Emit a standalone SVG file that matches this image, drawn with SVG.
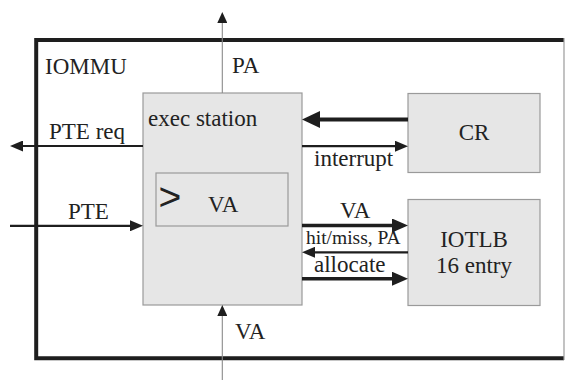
<svg xmlns="http://www.w3.org/2000/svg" width="565" height="380" viewBox="0 0 565 380">
  <style>
    text { font-family: "Liberation Serif", "Times New Roman", serif; font-size: 23px; fill: #222; }
    .small { font-size: 19.5px; }
    .mid { text-anchor: middle; }
    .sym { font-family: "Liberation Sans", Arial, sans-serif; font-size: 39px; }
    .block { fill: #e6e6e6; stroke: #9a9a9a; stroke-width: 1.2; }
    .frame { fill: none; stroke: #1e1e1e; stroke-width: 4; }
    .edge { fill: none; stroke: #9a9a9a; stroke-width: 1.2; }
    .wire { fill: none; stroke: #1e1e1e; }
    .thin { stroke: #8a8a8a; stroke-width: 1.1; }
    .w2 { stroke-width: 2.2; }
    .w3 { stroke-width: 3.6; }
    .w4 { stroke-width: 4.2; }
  </style>
  <defs>
    <!-- head sizes in user units so thick and thin wires share a look -->
    <marker id="headS" markerUnits="userSpaceOnUse" markerWidth="13" markerHeight="11" refX="6" refY="5.5" orient="auto">
      <path d="M0,0 L13,5.5 L0,11 Z" fill="#1e1e1e"/>
    </marker>
    <marker id="headT" markerUnits="userSpaceOnUse" markerWidth="11" markerHeight="10" refX="5" refY="5" orient="auto">
      <path d="M0,0 L11,5 L0,10 Z" fill="#1e1e1e"/>
    </marker>
    <marker id="headM" markerUnits="userSpaceOnUse" markerWidth="16" markerHeight="14" refX="8" refY="7" orient="auto">
      <path d="M0,0 L16,7 L0,14 Z" fill="#1e1e1e"/>
    </marker>
    <marker id="headL" markerUnits="userSpaceOnUse" markerWidth="18" markerHeight="17" refX="9" refY="8.5" orient="auto">
      <path d="M0,0 L18,8.5 L0,17 Z" fill="#1e1e1e"/>
    </marker>
  </defs>

  <!-- IOMMU enclosure -->
  <g id="iommu">
    <path class="frame" d="M564,40 L36.2,40 L36.2,358.3 L564,358.3"/>
    <line class="edge" x1="564" y1="38" x2="564" y2="360"/>
    <text x="45" y="74">IOMMU</text>
  </g>

  <g id="exec-station">
    <rect class="block" x="143" y="93" width="159" height="212"/>
    <text x="148" y="126">exec station</text>
  </g>

  <g id="va-register">
    <rect class="block" x="156" y="173" width="132" height="53"/>
    <text class="sym" x="158.5" y="209.5">&gt;</text>
    <text x="208" y="211.5">VA</text>
  </g>

  <g id="cr">
    <rect class="block" x="408" y="93.5" width="132" height="79"/>
    <text class="mid" x="474" y="140">CR</text>
  </g>

  <g id="iotlb">
    <rect class="block" x="408" y="199.5" width="132" height="106"/>
    <text class="mid" x="474" y="246.5">IOTLB</text>
    <text class="mid" x="474" y="273">16 entry</text>
  </g>

  <g id="connectors">
    <!-- PA out of the top -->
    <line class="wire thin" x1="222.3" y1="93" x2="222.3" y2="18" marker-end="url(#headT)"/>
    <text x="232" y="73">PA</text>
    <!-- PTE request out to the left -->
    <line class="wire w2" x1="143" y1="146" x2="17" y2="146" marker-end="url(#headS)"/>
    <text x="49" y="138.5">PTE req</text>
    <!-- PTE in from the left -->
    <line class="wire w2" x1="10" y1="225.8" x2="136" y2="225.8" marker-end="url(#headS)"/>
    <text x="68" y="219">PTE</text>
    <!-- VA in from the bottom -->
    <line class="wire thin" x1="222.3" y1="380" x2="222.3" y2="311" marker-end="url(#headT)"/>
    <text x="235" y="339">VA</text>
    <!-- CR to exec station -->
    <line class="wire w4" x1="408" y1="119.5" x2="311" y2="119.5" marker-end="url(#headL)"/>
    <!-- interrupt to CR -->
    <line class="wire w2" x1="302" y1="146.2" x2="401" y2="146.2" marker-end="url(#headS)"/>
    <text x="314" y="166">interrupt</text>
    <!-- VA lookup to IOTLB -->
    <line class="wire w3" x1="302" y1="225.5" x2="400" y2="225.5" marker-end="url(#headM)"/>
    <text x="340" y="218.3">VA</text>
    <!-- hit/miss result back -->
    <line class="wire w2" x1="408" y1="252.3" x2="309" y2="252.3" marker-end="url(#headS)"/>
    <text class="small" x="306" y="244">hit/miss, PA</text>
    <!-- allocate to IOTLB -->
    <line class="wire w3" x1="302" y1="278.7" x2="400" y2="278.7" marker-end="url(#headM)"/>
    <text x="314" y="271.5">allocate</text>
  </g>
</svg>
